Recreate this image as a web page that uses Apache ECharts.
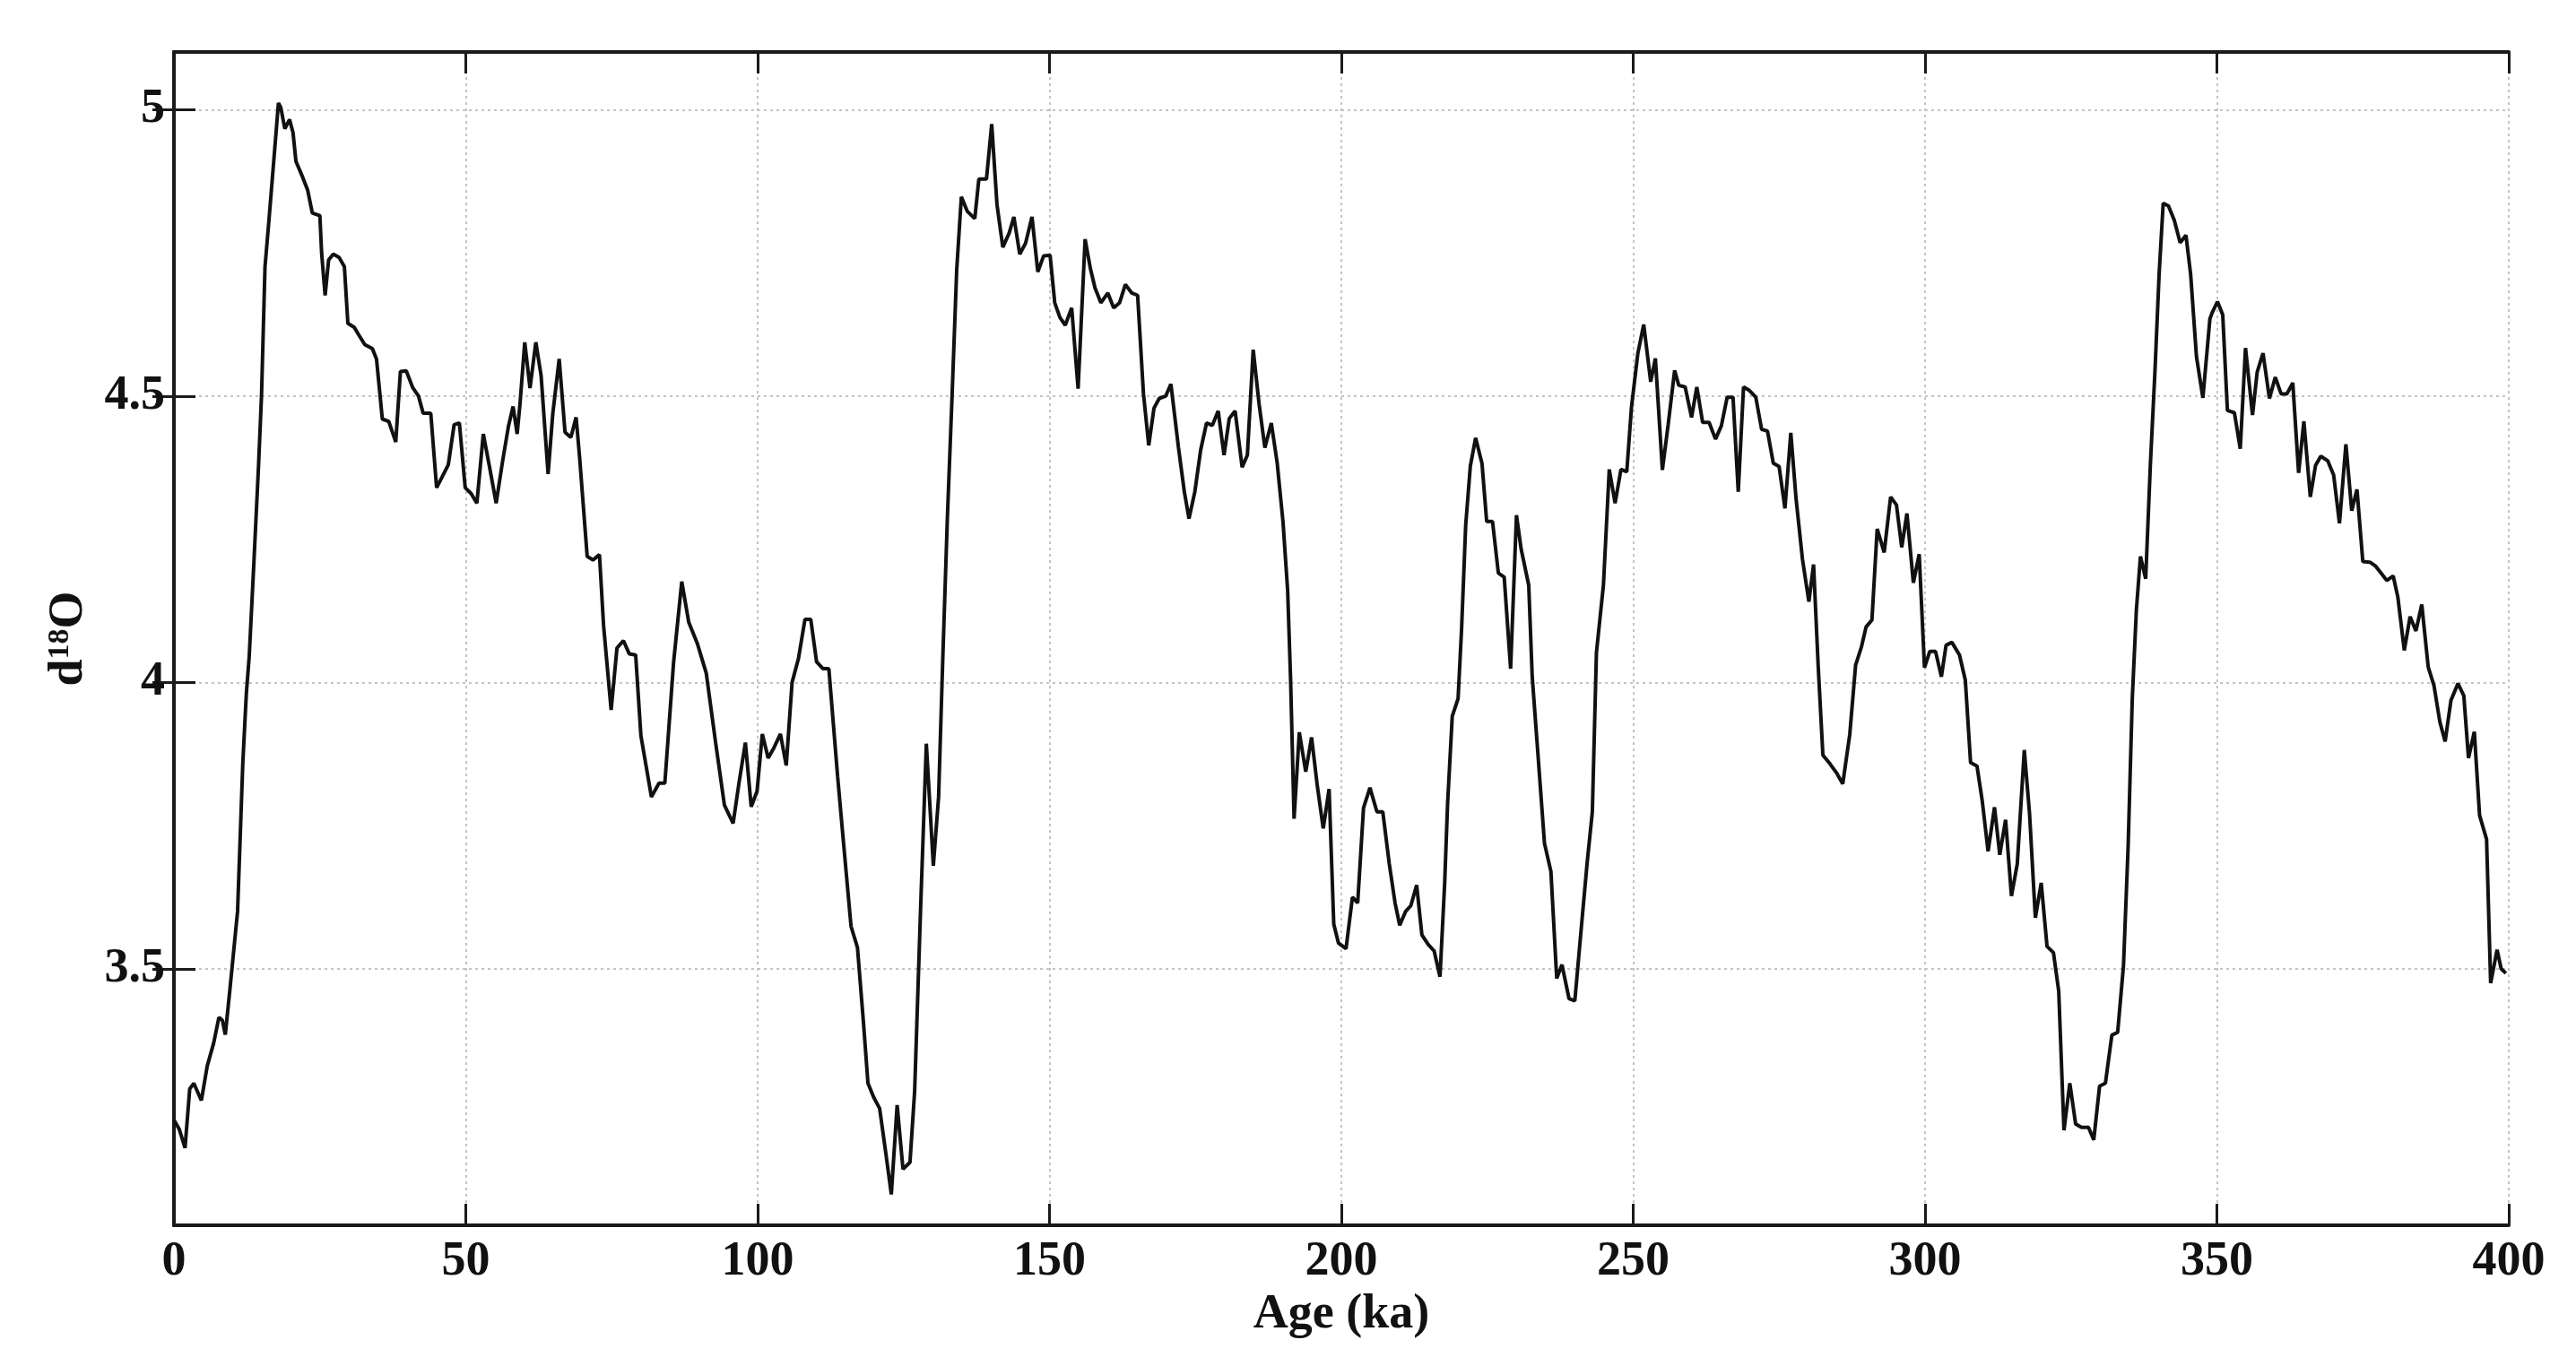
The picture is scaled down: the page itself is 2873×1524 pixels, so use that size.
<!DOCTYPE html>
<html>
<head>
<meta charset="utf-8">
<title>d18O vs Age</title>
<script src="https://cdn.jsdelivr.net/npm/echarts@6/dist/echarts.min.js"></script>
<style>
  html, body { margin: 0; padding: 0; background: #fff; }
  #chart { width: 2873px; height: 1524px; }
</style>
</head>
<body>
<div id="chart"></div>
<script>
// Age (ka) and d18O values
const ages = [
  0, 0.9, 1.9, 2.7, 3.4, 4.7, 5.7, 6.8, 7.7, 8.3, 8.8, 9.6, 10.9, 11.8, 12.4, 12.9, 13.7, 14.5, 15, 15.6,
  16.3, 17.3, 17.9, 18.3, 19, 19.8, 20.4, 20.9, 21.9, 22.9, 23.7, 25, 25.3, 25.9, 26.5, 27.3, 28.3, 29.2, 29.8, 30.9,
  31.6, 32.7, 34, 34.7, 35.7, 36.8, 38, 38.8, 39.8, 40.9, 41.9, 42.7, 44, 45, 46, 47, 48, 48.9, 49.9, 50.9,
  51.9, 53, 54, 55.2, 56.3, 57.3, 58.1, 58.8, 59.3, 60.1, 61, 62, 62.9, 64.1, 64.9, 66, 67, 68, 68.9, 69.5,
  70.8, 71.8, 72.9, 73.6, 74.9, 75.9, 77, 78, 79.1, 80, 81.8, 83.1, 84.1, 85.6, 87, 88.2, 89.7, 91.2, 92.8, 94.3,
  95.8, 96.8, 97.9, 98.9, 99.9, 100.8, 101.8, 102.8, 103.9, 104.9, 105.9, 107, 108.1, 109.1, 110.1, 111.2, 112.2, 113.7, 114.8, 116,
  117.1, 118.1, 118.9, 119.9, 120.9, 122, 122.9, 123.9, 124.9, 126.1, 126.9, 127.9, 128.9, 130.1, 131, 131.7, 132.5, 133.3, 134.1, 134.9,
  135.9, 137.2, 137.9, 139.2, 140.1, 141, 142, 143.1, 143.9, 144.9, 145.9, 147, 148, 149, 150.1, 150.9, 151.8, 152.7, 153.8, 154.9,
  156.1, 157, 157.8, 158.8, 160, 161, 162, 163, 164.1, 165.1, 166.1, 167, 167.9, 168.8, 169.9, 170.8, 172.1, 173.1, 173.9, 174.9,
  175.9, 176.9, 177.9, 178.9, 179.9, 180.8, 181.8, 183, 183.9, 184.9, 185.9, 186.9, 188, 189, 190, 190.8, 191.3, 191.9, 192.8, 193.9,
  194.9, 195.9, 196.9, 197.9, 198.7, 199.5, 200.8, 201.9, 202.8, 203.8, 204.9, 206.1, 207.1, 208.2, 209.2, 210, 211, 211.9, 212.9, 213.8,
  214.9, 215.9, 216.9, 217.7, 218.2, 219, 220, 220.6, 221.3, 222.1, 223, 224.1, 224.9, 225.9, 226.9, 227.9, 229, 230, 230.8, 232.1,
  232.7, 233.7, 234.8, 235.9, 236.9, 237.8, 239, 240, 241, 242.1, 243, 243.7, 244.9, 245.9, 246.9, 247.9, 248.9, 249.7, 250.8, 251.8,
  253, 253.8, 255, 256, 257.1, 257.8, 258.9, 260, 260.9, 261.9, 263, 264.1, 265.1, 266.1, 267.1, 268, 268.9, 269.9, 271, 272,
  273, 274, 275, 276, 277, 277.9, 279, 280.1, 280.9, 281.7, 282.5, 283.7, 284.9, 285.9, 287.1, 288.1, 289.1, 289.9, 290.9, 291.8,
  293, 294.1, 295.1, 296, 296.9, 298, 299, 299.9, 300.8, 301.8, 302.8, 303.6, 304.6, 305.9, 306.9, 307.8, 308.9, 309.8, 310.8, 311.9,
  312.8, 313.8, 314.8, 315.8, 317, 317.9, 318.9, 319.9, 320.9, 322, 322.9, 323.8, 324.8, 325.8, 326.8, 328, 328.9, 329.9, 330.9, 332,
  333, 334, 334.8, 335.5, 336.2, 336.9, 337.8, 338.6, 339.4, 340.1, 340.8, 341.7, 342.7, 343.7, 344.7, 345.5, 346.5, 347.6, 348.8, 349.2,
  350.1, 351, 351.8, 353, 354, 354.9, 356.1, 356.9, 357.9, 359, 360, 361, 362, 363, 364, 364.9, 366, 366.9, 367.8, 369,
  370, 371, 372.1, 373.1, 374, 375, 376.2, 377.2, 378.2, 379.1, 380.2, 381, 382.1, 383.1, 384.1, 385.1, 386.2, 387.2, 388.2, 389.1,
  390.1, 391.3, 392.3, 393.1, 394.1, 395, 396.2, 396.9, 398, 398.7, 399.5
];
const d18O = [
  3.236, 3.22, 3.187, 3.29, 3.30, 3.27, 3.33, 3.37, 3.415, 3.41, 3.385, 3.465, 3.60, 3.86, 3.98, 4.046, 4.21, 4.38, 4.50, 4.726,
  4.81, 4.936, 5.012, 5.004, 4.967, 4.983, 4.96, 4.91, 4.886, 4.86, 4.82, 4.815, 4.75, 4.676, 4.738, 4.748, 4.742, 4.726, 4.627, 4.62,
  4.608, 4.59, 4.583, 4.565, 4.46, 4.456, 4.42, 4.543, 4.544, 4.515, 4.50, 4.47, 4.47, 4.34, 4.36, 4.38, 4.45, 4.453, 4.34, 4.33,
  4.313, 4.434, 4.38, 4.313, 4.386, 4.447, 4.482, 4.434, 4.488, 4.594, 4.514, 4.594, 4.536, 4.364, 4.469, 4.565, 4.437, 4.428, 4.463, 4.393,
  4.22, 4.214, 4.223, 4.10, 3.952, 4.06, 4.073, 4.05, 4.048, 3.907, 3.80, 3.824, 3.824, 4.035, 4.176, 4.105, 4.067, 4.016, 3.895, 3.786,
  3.754, 3.824, 3.895, 3.783, 3.81, 3.91, 3.868, 3.886, 3.91, 3.855, 4.0, 4.042, 4.11, 4.11, 4.036, 4.024, 4.024, 3.836, 3.71, 3.574,
  3.537, 3.41, 3.30, 3.275, 3.256, 3.175, 3.106, 3.262, 3.15, 3.162, 3.287, 3.60, 3.893, 3.68, 3.80, 4.036, 4.286, 4.498, 4.72, 4.848,
  4.823, 4.81, 4.879, 4.879, 4.975, 4.835, 4.76, 4.785, 4.813, 4.748, 4.767, 4.813, 4.717, 4.745, 4.746, 4.663, 4.637, 4.624, 4.654, 4.513,
  4.774, 4.723, 4.689, 4.663, 4.68, 4.654, 4.663, 4.695, 4.68, 4.676, 4.504, 4.414, 4.479, 4.496, 4.50, 4.521, 4.41, 4.333, 4.286, 4.333,
  4.406, 4.453, 4.449, 4.474, 4.397, 4.461, 4.474, 4.376, 4.397, 4.581, 4.487, 4.41, 4.453, 4.384, 4.281, 4.161, 4.007, 3.762, 3.913, 3.844,
  3.904, 3.818, 3.745, 3.814, 3.578, 3.545, 3.535, 3.625, 3.615, 3.781, 3.816, 3.774, 3.774, 3.684, 3.615, 3.576, 3.60, 3.61, 3.646, 3.559,
  3.542, 3.531, 3.486, 3.649, 3.788, 3.941, 3.972, 4.094, 4.274, 4.378, 4.427, 4.382, 4.281, 4.281, 4.191, 4.184, 4.024, 4.292, 4.233, 4.17,
  4.01, 3.872, 3.719, 3.67, 3.483, 3.507, 3.448, 3.444, 3.559, 3.684, 3.774, 4.052, 4.17, 4.372, 4.313, 4.372, 4.368, 4.48, 4.575, 4.625,
  4.525, 4.566, 4.371, 4.451, 4.545, 4.519, 4.516, 4.463, 4.516, 4.454, 4.454, 4.425, 4.448, 4.498, 4.498, 4.333, 4.516, 4.51, 4.498, 4.442,
  4.439, 4.383, 4.377, 4.304, 4.436, 4.321, 4.215, 4.141, 4.206, 4.027, 3.873, 3.858, 3.841, 3.823, 3.909, 4.03, 4.062, 4.097, 4.109, 4.268,
  4.227, 4.324, 4.31, 4.236, 4.295, 4.174, 4.224, 4.026, 4.054, 4.054, 4.01, 4.065, 4.07, 4.048, 4.004, 3.86, 3.854, 3.793, 3.705, 3.782,
  3.699, 3.76, 3.627, 3.683, 3.882, 3.771, 3.589, 3.65, 3.539, 3.528, 3.461, 3.218, 3.30, 3.229, 3.223, 3.223, 3.201, 3.295, 3.30, 3.384,
  3.389, 3.506, 3.716, 3.971, 4.126, 4.22, 4.181, 4.38, 4.546, 4.713, 4.837, 4.832, 4.807, 4.768, 4.781, 4.713, 4.569, 4.497, 4.635, 4.646,
  4.665, 4.642, 4.475, 4.471, 4.408, 4.584, 4.467, 4.542, 4.575, 4.496, 4.533, 4.504, 4.504, 4.523, 4.366, 4.456, 4.324, 4.379, 4.395, 4.387,
  4.362, 4.278, 4.416, 4.30, 4.337, 4.211, 4.21, 4.203, 4.19, 4.178, 4.186, 4.149, 4.056, 4.115, 4.09, 4.136, 4.027, 3.994, 3.931, 3.897,
  3.969, 3.998, 3.977, 3.868, 3.914, 3.768, 3.726, 3.475, 3.533, 3.50, 3.492
];
const yTicks = [3.5, 4, 4.5, 5];

const chart = echarts.init(document.getElementById('chart'));
const font = 'Liberation Serif';
const frame = { show: true, lineStyle: { color: '#1a1a1a', width: 4 } };
const tickIn = { show: true, inside: true, length: 24, lineStyle: { color: '#1a1a1a', width: 3 } };
const gridDots = { show: true, lineStyle: { color: '#c4c4c4', width: 2, type: [3, 4] } };
const labelStyle = { fontFamily: font, fontWeight: 'bold', fontSize: 54, color: '#111' };

chart.setOption({
  animation: false,
  backgroundColor: '#fff',
  grid: { left: 194, right: 75, top: 58, bottom: 157 },
  xAxis: [
    {
      type: 'value', min: 0, max: 400, interval: 50, position: 'bottom',
      name: 'Age (ka)', nameLocation: 'middle', nameGap: 72,
      nameTextStyle: labelStyle,
      axisLine: frame, axisTick: tickIn, splitLine: gridDots,
      axisLabel: Object.assign({ margin: 14 }, labelStyle)
    },
    {
      type: 'value', min: 0, max: 400, interval: 50, position: 'top',
      axisLine: frame, axisTick: tickIn, splitLine: { show: false }, axisLabel: { show: false }
    }
  ],
  yAxis: [
    {
      type: 'value', min: 3.052, max: 5.101, position: 'left',
      name: '{m|d}{s|18}{m|O}', nameLocation: 'middle', nameGap: 90,
      nameTextStyle: {
        rich: {
          m: { fontFamily: font, fontWeight: 'bold', fontSize: 54, color: '#111', verticalAlign: 'bottom' },
          s: { fontFamily: font, fontWeight: 'bold', fontSize: 34, color: '#111', verticalAlign: 'top' }
        }
      },
      axisLine: frame,
      axisTick: Object.assign({ customValues: yTicks }, tickIn),
      splitLine: gridDots,
      axisLabel: Object.assign({ margin: 10, customValues: yTicks }, labelStyle)
    },
    {
      type: 'value', min: 3.052, max: 5.101, position: 'right',
      axisLine: frame,
      axisTick: Object.assign({ customValues: yTicks }, tickIn),
      splitLine: { show: false }, axisLabel: { show: false }
    }
  ],
  series: [
    {
      type: 'line',
      xAxisIndex: 0,
      yAxisIndex: 0,
      data: ages.map((a, i) => [a, d18O[i]]),
      showSymbol: false,
      lineStyle: { color: '#111', width: 4 },
      z: 5
    }
  ]
});

window.addEventListener('resize', () => chart.resize());
</script>
</body>
</html>
